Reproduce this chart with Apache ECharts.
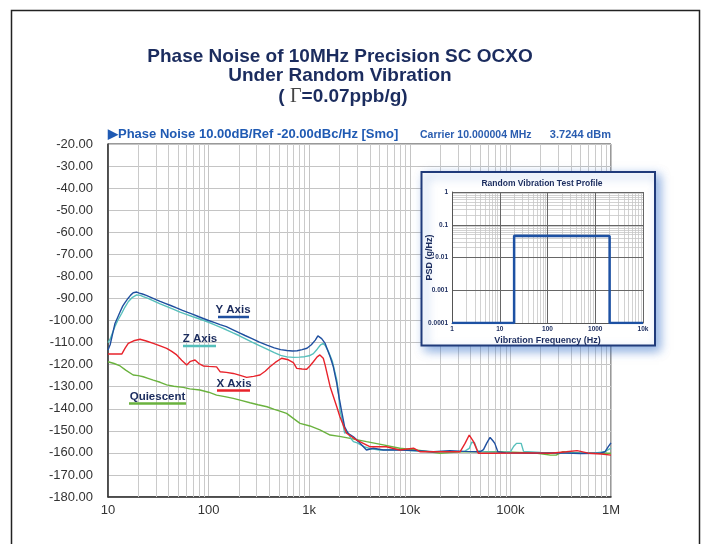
<!DOCTYPE html>
<html><head><meta charset="utf-8">
<script src="https://cdn.jsdelivr.net/npm/echarts@6/dist/echarts.min.js"></script>
<style>html,body{margin:0;padding:0;background:#fff}#c{width:707px;height:544px}</style>
</head><body><div id="c"></div>
<script>
// ---------- tick labels ----------
const xTickLabels = ['10', '100', '1k', '10k', '100k', '1M'];
const insetXLabels = ['1', '10', '100', '1000', '10k'];
const insetYLabels = ['0.0001', '0.001', '0.01', '0.1', '1'];

// ---------- series: Y Axis (blue) ----------
const yAxisFreq = [10,10.5,11,11.7,12.5,13.2,14,14.7,15.8,16.8,17.8,18.5,19.3,20.5,22,24,27,30,33,37,42,48,55,62,70,80,90,100,115,130,150,175,200,230,270,320,380,450,520,600,680,760,850,950,1050,1150,1220,1270,1330,1440,1615,1737,1880,1950,2090,2250,2430,2750,3090,3460,3710,4340,5450,7950,11600,17200,25000,35000,50000,54000,58000,62800,67000,70000,75000,90000,170000,300000,500000,770000,870000,940000,1000000];
const yAxisVals = [-113.4,-111,-107,-101.5,-98.5,-96,-93.5,-92,-90,-88.5,-87.4,-87,-87.1,-87.6,-88,-88.6,-89.6,-90.5,-91.3,-92.2,-93.2,-94.3,-95.4,-96.3,-97.2,-98.3,-99.2,-100,-101,-101.9,-102.8,-104.2,-105.5,-106.8,-108.2,-109.8,-111.2,-112.4,-113.2,-113.6,-113.8,-113.7,-113.2,-112.6,-111,-108.9,-107,-107.3,-108.2,-110.4,-116.4,-121,-128.5,-133,-140.6,-148.2,-151.1,-152.7,-154.9,-157.2,-158.7,-157.9,-158.7,-158.7,-159,-159.5,-159,-159.3,-159.5,-158.5,-155.7,-153,-154.5,-155.7,-159.5,-160,-160.2,-160,-160.3,-160.2,-159.5,-157.2,-155.5];

// ---------- series: Z Axis (teal) ----------
const zAxisFreq = [10,10.5,11,11.7,12.5,13.7,14.7,15.9,17.5,19.3,21,22.4,25,28,33,38,45,52,60,70,80,90,100,115,130,150,175,200,230,270,320,380,450,520,600,700,800,900,1000,1100,1200,1300,1380,1450,1550,1700,1880,1960,2020,2150,2250,2400,2600,2750,3000,3500,4000,5000,7000,10000,15000,25000,35000,39000,41200,44000,47000,55000,80000,100000,108000,115000,128000,135000,200000,400000,700000,870000,940000,1000000];
const zAxisVals = [-110,-108.5,-106,-102.8,-100,-96.7,-94,-91.5,-89.5,-88.4,-88.6,-89.2,-90,-91,-92.5,-93.6,-95,-96.2,-97.2,-98.3,-99.2,-100,-100.8,-102,-103,-104.2,-105.6,-106.8,-108.2,-109.8,-111.4,-113,-114.6,-115.8,-116.5,-116.7,-116.6,-116.4,-116,-115,-113,-111,-110.4,-111.5,-114,-118.5,-127,-133,-140.6,-146,-151,-150.5,-153.5,-154.9,-155.5,-157.2,-158,-158.7,-158.5,-159,-159.5,-159.5,-159.3,-158,-155.2,-155.4,-159,-159.5,-159.8,-159.5,-157,-155.7,-155.7,-159.3,-159.8,-160,-160,-159.5,-158.5,-157.8];

// ---------- series: X Axis (red) ----------
const xAxisFreq = [10,13.7,14.8,15.9,18,20.8,24,28.2,33,38.3,43,48.2,54,60.6,66,73.3,80,88.6,100,120,130,150,176,210,239,280,324,365,407,460,532,620,696,752,850,944,1020,1100,1200,1278,1380,1440,1615,1880,2020,2350,2970,4000,5840,7950,10900,12700,20000,31600,35400,39000,43000,48000,70000,150000,250000,360000,460000,610000,800000,1000000];
const xAxisVals = [-115.2,-115.2,-112.5,-110.4,-109.2,-108.5,-109.3,-110.4,-111.5,-112.6,-114,-115.6,-118,-120.2,-118.5,-117.9,-119.5,-120.6,-120.8,-121,-123.2,-123.5,-124,-125,-125.8,-125.3,-124.7,-123,-121,-119,-117.1,-117.8,-119.1,-121.7,-122,-122.1,-120.5,-118.7,-116.5,-115.6,-117.1,-120.2,-130,-139.1,-143.6,-151.1,-154.2,-157.2,-157.2,-158.7,-157.9,-159.5,-159.5,-159.5,-155.7,-151.9,-154.9,-160.2,-160.2,-160,-160.2,-159.5,-159,-160.2,-160.5,-161];

// ---------- series: Quiescent (green) ----------
const quietFreq = [10,11.5,13.2,15,17.8,20,22.4,25,28.2,33,38.3,45,55.9,65,82,100,120,145,176,210,258,310,380,450,520,596,700,810,1016,1278,1615,2000,2560,3710,5450,7950,11600,20000,31600,40000,78000,170000,220000,250000,285000,330000,500000,770000,1000000];
const quietVals = [-118.7,-119.5,-120.6,-122.5,-124.7,-125,-125.5,-126.2,-127,-128,-129.2,-129.8,-130.3,-131,-131.5,-132.5,-133.8,-134.5,-135.3,-136.2,-137.3,-138.2,-139.1,-140.3,-141.2,-142.1,-144.5,-146.6,-147.8,-149.6,-151.9,-152.5,-153.4,-154.9,-156.4,-157.9,-158.7,-160.2,-159.5,-159.5,-159.5,-160,-160.6,-161,-161,-159.5,-160,-160.2,-160.2];

// ---------- inset: random vibration profile ----------
const profileFreq = [1, 20, 20, 2000, 2000, 10000];
const profilePSD = [0.0001, 0.0001, 0.046, 0.045, 0.0001, 0.0001];

const zip = (a, b) => a.map((v, i) => [v, b[i]]);
const FONT = 'Liberation Sans, Arial, sans-serif';
const NAVY = '#1b2c5e';

// minor grid positions (2..9 within each decade)
const mainMinor = [];
for (let d = 1; d <= 5; d++) for (let k = 2; k <= 9; k++) mainMinor.push({ xAxis: k * Math.pow(10, d) });
const insetMinor = [];
for (let d = 0; d <= 3; d++) for (let k = 2; k <= 9; k++) insetMinor.push({ xAxis: k * Math.pow(10, d) });
for (let d = -4; d <= -1; d++) for (let k = 2; k <= 9; k++) insetMinor.push({ yAxis: +(k * Math.pow(10, d)).toPrecision(3) });

const decIdx = v => Math.round(Math.log10(v));

const chart = echarts.init(document.getElementById('c'), null, { renderer: 'canvas' });

function lineSeries(name, data, color, z) {
  return {
    name, type: 'line', data, xAxisIndex: 0, yAxisIndex: 0,
    showSymbol: false, symbol: 'none', z,
    lineStyle: { color, width: 1.4 }, itemStyle: { color },
    animation: false, silent: true
  };
}

const option = {
  animation: false,
  backgroundColor: '#fff',
  grid: [
    { left: 108, top: 144, width: 503, height: 353, show: true, borderColor: '#333', borderWidth: 1 },
    { left: 452, top: 192, width: 191, height: 131, show: false, z: 20 }
  ],
  xAxis: [
    {
      type: 'log', logBase: 10, min: 10, max: 1000000, gridIndex: 0, splitNumber: 5,
      axisLine: { show: true, onZero: false, lineStyle: { color: '#333', width: 1.5 } },
      axisTick: { show: false },
      axisLabel: { color: '#333', fontSize: 13, fontFamily: FONT, margin: 7,
        formatter: v => xTickLabels[decIdx(v) - 1] },
      splitLine: { show: true, lineStyle: { color: '#c4c4c4', width: 1 } }
    },
    {
      type: 'log', logBase: 10, min: 1, max: 10000, gridIndex: 1, splitNumber: 4, z: 23,
      axisLine: { show: true, onZero: false, lineStyle: { color: '#555', width: 1 } },
      axisTick: { show: false },
      axisLabel: { color: NAVY, fontSize: 6.5, fontWeight: 'bold', fontFamily: FONT, margin: 3,
        formatter: v => insetXLabels[decIdx(v)] },
      splitLine: { show: true, lineStyle: { color: '#666', width: 1 } },
      name: 'Vibration Frequency (Hz)', nameLocation: 'middle', nameGap: 13, nameMoveOverlap: false,
      nameTextStyle: { color: NAVY, fontSize: 9, fontWeight: 'bold', fontFamily: FONT }
    }
  ],
  yAxis: [
    {
      type: 'value', min: -180, max: -20, interval: 10, gridIndex: 0,
      axisLine: { show: true, lineStyle: { color: '#333', width: 1.5 } },
      axisTick: { show: false },
      axisLabel: { color: '#333', fontSize: 13, fontFamily: FONT, margin: 15,
        formatter: v => v.toFixed(2) },
      splitLine: { show: true, lineStyle: { color: '#c4c4c4', width: 1 } }
    },
    {
      type: 'log', logBase: 10, min: 0.0001, max: 1, gridIndex: 1, splitNumber: 4, z: 23,
      axisLine: { show: true, lineStyle: { color: '#555', width: 1 } },
      axisTick: { show: false },
      axisLabel: { color: NAVY, fontSize: 6.5, fontWeight: 'bold', fontFamily: FONT, margin: 4,
        formatter: v => insetYLabels[decIdx(v) + 4] },
      splitLine: { show: true, lineStyle: { color: '#666', width: 1 } },
      name: 'PSD (g/Hz)', nameLocation: 'middle', nameGap: 18, nameRotate: 90, nameMoveOverlap: false,
      nameTextStyle: { color: NAVY, fontSize: 9, fontWeight: 'bold', fontFamily: FONT }
    }
  ],
  series: [
    {
      type: 'line', xAxisIndex: 0, yAxisIndex: 0, data: [[10, -200]], showSymbol: false, silent: true, z: 1,
      lineStyle: { opacity: 0 },
      markLine: { z: 1, silent: true, symbol: ['none', 'none'], animation: false, label: { show: false },
        lineStyle: { color: '#cacaca', width: 1, type: 'solid' }, emphasis: { disabled: true }, data: mainMinor }
    },
    lineSeries('Quiescent', zip(quietFreq, quietVals), '#6ab23e', 3),
    lineSeries('Z Axis', zip(zAxisFreq, zAxisVals), '#56bfbb', 4),
    lineSeries('Y Axis', zip(yAxisFreq, yAxisVals), '#1f4f9f', 5),
    lineSeries('X Axis', zip(xAxisFreq, xAxisVals), '#e8232b', 6),
    {
      type: 'line', xAxisIndex: 1, yAxisIndex: 1, data: [[1, 0.0001]], showSymbol: false, silent: true, z: 21,
      lineStyle: { opacity: 0 },
      markLine: { z: 21, silent: true, symbol: ['none', 'none'], animation: false, label: { show: false },
        lineStyle: { color: '#c6c6c6', width: 0.8, type: 'solid' }, emphasis: { disabled: true }, data: insetMinor }
    },
    {
      type: 'line', xAxisIndex: 1, yAxisIndex: 1, data: zip(profileFreq, profilePSD),
      showSymbol: false, silent: true, z: 25,
      lineStyle: { color: '#1d51a3', width: 2.5 }
    }
  ],
  graphic: [
    { type: 'rect', z: 0, silent: true, shape: { x: 11.5, y: 10.5, width: 688, height: 600 },
      style: { fill: 'none', stroke: '#222', lineWidth: 1.5 } },
    { type: 'text', z: 30, x: 340, y: 57, style: { text: 'Phase Noise of 10MHz Precision SC OCXO',
      font: 'bold 19px ' + FONT, fill: NAVY, align: 'center', verticalAlign: 'middle' } },
    { type: 'text', z: 30, x: 340, y: 76, style: { text: 'Under Random Vibration',
      font: 'bold 19px ' + FONT, fill: NAVY, align: 'center', verticalAlign: 'middle' } },
    { type: 'text', z: 30, x: 343, y: 97, style: { text: '{a|( }{g|Γ}{a|=0.07ppb/g)}',
      align: 'center', verticalAlign: 'middle',
      rich: { a: { font: 'bold 19px ' + FONT, fill: NAVY }, g: { font: '20px Liberation Serif, serif', fill: '#444' } } } },
    { type: 'text', z: 30, x: 108, y: 134, style: { text: '▶Phase Noise 10.00dB/Ref -20.00dBc/Hz [Smo]',
      font: 'bold 13px ' + FONT, fill: '#1f5ab3', align: 'left', verticalAlign: 'middle' } },
    { type: 'text', z: 30, x: 420, y: 135, style: { text: 'Carrier 10.000004 MHz',
      font: 'bold 10.5px ' + FONT, fill: '#2a5db0', align: 'left', verticalAlign: 'middle' } },
    { type: 'text', z: 30, x: 611, y: 135, style: { text: '3.7244 dBm',
      font: 'bold 11px ' + FONT, fill: '#2a5db0', align: 'right', verticalAlign: 'middle' } },
    // legend labels
    { type: 'text', z: 30, x: 233, y: 310, style: { text: 'Y Axis', font: 'bold 11.5px ' + FONT, fill: NAVY, align: 'center', verticalAlign: 'middle' } },
    { type: 'line', z: 30, shape: { x1: 218, y1: 317, x2: 249, y2: 317 }, style: { stroke: '#1f4f9f', lineWidth: 2.5 } },
    { type: 'text', z: 30, x: 200, y: 339, style: { text: 'Z Axis', font: 'bold 11.5px ' + FONT, fill: NAVY, align: 'center', verticalAlign: 'middle' } },
    { type: 'line', z: 30, shape: { x1: 183, y1: 346, x2: 216, y2: 346 }, style: { stroke: '#56bfbb', lineWidth: 2.5 } },
    { type: 'text', z: 30, x: 234, y: 384, style: { text: 'X Axis', font: 'bold 11.5px ' + FONT, fill: NAVY, align: 'center', verticalAlign: 'middle' } },
    { type: 'line', z: 30, shape: { x1: 217, y1: 390.5, x2: 250, y2: 390.5 }, style: { stroke: '#e8232b', lineWidth: 2.5 } },
    { type: 'text', z: 30, x: 157.5, y: 397, style: { text: 'Quiescent', font: 'bold 11.5px ' + FONT, fill: NAVY, align: 'center', verticalAlign: 'middle' } },
    { type: 'line', z: 30, shape: { x1: 129, y1: 403.5, x2: 186, y2: 403.5 }, style: { stroke: '#6ab23e', lineWidth: 2.5 } },
    // inset box
    { type: 'rect', z: 10, silent: true, shape: { x: 421.5, y: 172, width: 233.5, height: 173.5 },
      style: { fill: '#fff', stroke: '#1f3a7a', lineWidth: 2, shadowBlur: 10, shadowColor: 'rgba(50,110,200,0.55)', shadowOffsetX: 4, shadowOffsetY: 4 } },
    { type: 'text', z: 30, x: 542, y: 184, style: { text: 'Random Vibration Test Profile',
      font: 'bold 8.5px ' + FONT, fill: NAVY, align: 'center', verticalAlign: 'middle' } }
  ]
};
chart.setOption(option);
</script>
</body></html>
